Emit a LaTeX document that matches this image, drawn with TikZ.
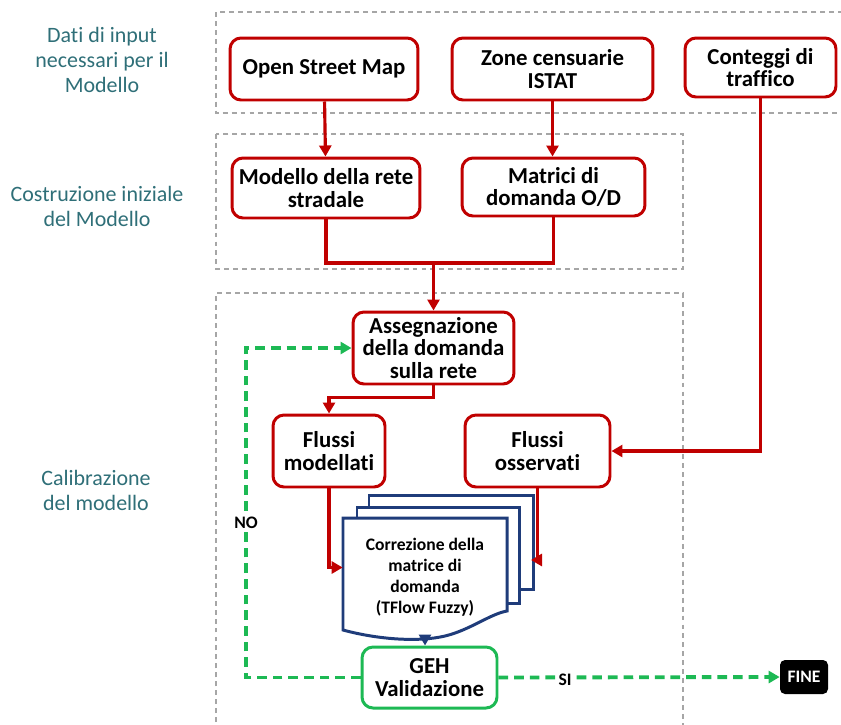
\documentclass[tikz,border=0pt]{standalone}
\usepackage{fontspec}
\setmainfont{Carlito}[Ligatures=CommonOff]
\usetikzlibrary{positioning,arrows.meta,arrows}
\definecolor{myred}{HTML}{C00000}
\definecolor{mygreen}{HTML}{1DB954}
\definecolor{mynavy}{HTML}{1F3C7A}
\definecolor{myteal}{HTML}{2F6F78}
\definecolor{mygray}{HTML}{A6A6A6}
\tikzset{
redbox/.style={
  draw=myred,
  line width=1.7pt,
  rounded corners=0.22cm,
  fill=white,
  align=center,
  inner sep=0pt,
  font=\fontsize{13}{13}\selectfont\bfseries
  },
greenbox/.style={
  redbox,
  draw=mygreen
  },
endbox/.style={
  fill=black,
  text=white,
  rounded corners=0.1cm,
  inner sep=0pt,
  minimum width=0.96cm,
  minimum height=0.68cm,
  font=\fontsize{10}{10}\selectfont\bfseries
  },
phase/.style={
  text=myteal,
  align=center,
  font=\fontsize{12.5}{14.2}\selectfont
  },
zone/.style={
  draw=mygray,
  line width=0.8pt,
  dash pattern=on 2.8pt off 2.3pt
  },
redline/.style={
  draw=myred,
  line width=1.8pt
  },
greenline/.style={
  draw=mygreen,
  line width=2.2pt,
  dash pattern=on 5.5pt off 3.4pt
  },
doc/.style={
  draw=mynavy,
  line width=1.7pt,
  fill=white
  },
tag/.style={
  fill=white,
  inner sep=1.5pt,
  font=\fontsize{10}{10}\selectfont\bfseries
  }
}
\begin{document}
\begin{tikzpicture}[x=0.02cm,y=-0.02cm,>={Triangle[length=0.22cm,width=0.24cm]}]
\useasboundingbox (0,0) rectangle (841,724);

% zone tratteggiate
\draw[zone] (870,12) -- (216,12) -- (216,113) -- (870,113);
\draw[zone] (216,134) rectangle (683,269);
\draw[zone] (216,740) -- (216,293) -- (683,293) -- (683,740);

% fasi
\node[phase] (ph1) at (102,60) {Dati di input\\necessari per il\\Modello};
\node[phase] (ph2) at (97,206) {Costruzione iniziale\\del Modello};
\node[phase] (ph3) at (96,490) {Calibrazione\\del modello};

% dati di input
\node[redbox,minimum width=3.76cm,minimum height=1.24cm] (osm) at (324,69) {Open Street Map};
\node[redbox,minimum width=4.02cm,minimum height=1.24cm] (istat) at (552.5,69) {Zone censuarie\\ISTAT};
\node[redbox,minimum width=3.02cm,minimum height=1.18cm] (cont) at (760.5,67.5) {Conteggi di\\traffico};

% costruzione
\node[redbox,minimum width=3.76cm,minimum height=1.2cm] (rete) at (326,188) {Modello della rete\\stradale};
\node[redbox,minimum width=3.66cm,minimum height=1.16cm] (matr) at (553.5,187) {Matrici di\\domanda O/D};

% calibrazione
\node[redbox,minimum width=3.22cm,minimum height=1.44cm] (assegn) at (433.5,348) {Assegnazione\\della domanda\\sulla rete};
\node[redbox,minimum width=2.24cm,minimum height=1.44cm] (fmod) at (329,451) {Flussi\\modellati};
\node[redbox,minimum width=2.9cm,minimum height=1.44cm] (foss) at (537.5,451) {Flussi\\osservati};

% documenti multipli
\draw[doc] (369,495) rectangle (533,589);
\draw[doc] (357,507) rectangle (519,603);
\draw[doc] (343,518) -- (507,518) -- (507,611)
  .. controls (490,614) and (470,630) .. (445,636)
  .. controls (420,642) and (380,640) .. (343,630) -- cycle;
\node[align=center,inner sep=0pt,minimum width=3.28cm,minimum height=2.38cm,
  font=\fontsize{10}{12}\selectfont\bfseries] (corr) at (425,577.5)
  {Correzione della\\matrice di\\domanda\\(TFlow Fuzzy)};
\coordinate (bk) at (531,560);

\node[greenbox,minimum width=2.7cm,minimum height=1.22cm] (geh) at (429.5,677.5) {GEH\\Validazione};
\node[endbox] (fine) at (804,677) {FINE};

% collegamenti
\coordinate (join) at (433.5,263);
\coordinate (loop) at (246,677.5);
\draw[redline,->] (osm) -- (rete);
\draw[redline,->] (istat.south) -- (istat.south |- matr.north);
\draw[redline] (rete.south) |- (join);
\draw[redline] (matr.south) |- (join);
\draw[redline,->] (join) -- (assegn.north);
\draw[redline,->] (assegn.south) -- ++(0,12) -| (fmod.north);
\draw[redline,->] (cont.south) |- (foss.east);
\draw[redline,->] (fmod.south) |- ([yshift=0.2cm]corr.west);
\draw[redline,->] (foss.south) |- (bk);
\draw[draw=mynavy,line width=1.7pt,->] (corr.south) -- (corr.south |- geh.north);

\draw[greenline,->] (geh.west) -- (loop) |- (assegn.west);
\draw[greenline,->] (geh.east) -- (fine.west);
\node[tag] (no) at (246,523) {NO};
\node[tag] (si) at (565,680) {SI};

\end{tikzpicture}
\end{document}
